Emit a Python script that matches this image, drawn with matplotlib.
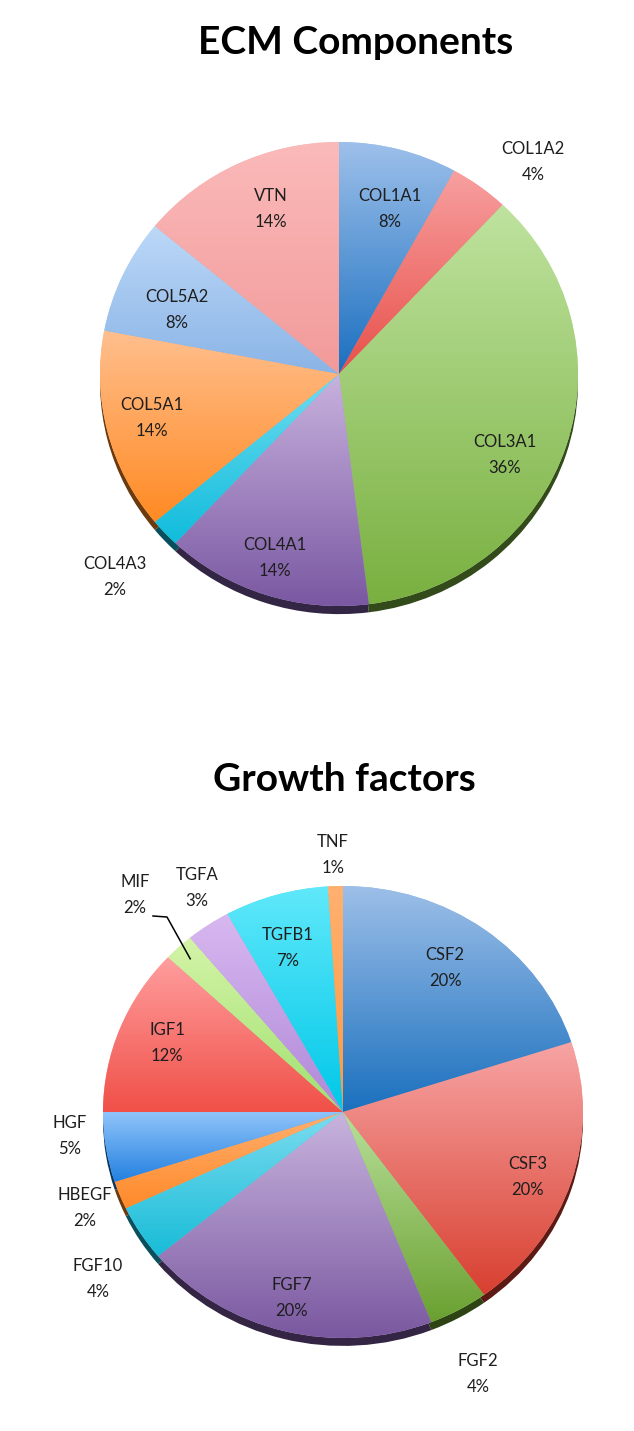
import matplotlib
matplotlib.use('Agg')
import matplotlib.pyplot as plt
import numpy as np
from matplotlib.colors import to_rgb, LinearSegmentedColormap

# ---------------- data ----------------
ecm_title = "ECM Components"
ecm_labels = ["COL1A1", "COL1A2", "COL3A1", "COL4A1", "COL4A3", "COL5A1", "COL5A2", "VTN"]
ecm_values = [8, 4, 36, 14, 2, 14, 8, 14]

gf_title = "Growth factors"
gf_labels = ["CSF2", "CSF3", "FGF2", "FGF7", "FGF10", "HBEGF", "HGF", "IGF1", "MIF", "TGFA", "TGFB1", "TNF"]
gf_values = [20, 20, 4, 20, 4, 2, 5, 12, 2, 3, 7, 1]

# ---------------- styles ----------------
ecm_colors = [("#9dc0ea", "#1a6fc0"), ("#f7a0a0", "#e8504a"), ("#bfe39f", "#79b040"),
              ("#c8b2de", "#7a58a2"), ("#70dcf0", "#10bcdc"), ("#ffbf8e", "#ff8a22"),
              ("#bcd8f8", "#8ab4e6"), ("#fbbaba", "#f29a9a")]
gf_colors = [("#9dbfe8", "#1a70be"), ("#f7a4a4", "#d84030"), ("#b8e09a", "#6aa030"),
             ("#c8b4de", "#7a58a0"), ("#7cdcef", "#18bcd8"), ("#ffb070", "#ff8a2a"),
             ("#90c4fa", "#2280e0"), ("#ff9e9e", "#f05048"), ("#d4f4a8", "#a0e070"),
             ("#d8b8f0", "#b088d8"), ("#60e8fa", "#00c8e8"), ("#ffb070", "#ff9a40")]

# label block centres in figure pixels (layout)
ecm_label_px = [(390, 209), (533, 162), (505, 455), (275, 558), (115, 577),
                (152, 418), (177, 310), (271, 209)]
gf_label_px = [(445, 968), (528, 1177), (478, 1374), (292, 1298), (98, 1279),
               (85, 1208), (70, 1136), (167, 1043), (135, 895), (197, 888),
               (288, 948), (333, 855)]

W, H = 634, 1431
fig = plt.figure(figsize=(W / 100, H / 100), dpi=100)
fig.patch.set_facecolor("white")

FONT = "Lato"
TXT = "#1e1e1e"


def add_axes_px(cx, cy, rx, ry):
    return fig.add_axes([(cx - rx) / W, 1 - (cy + ry) / H, 2 * rx / W, 2 * ry / H])


def draw_pie(cx, cy, rx, ry, values, colors):
    ax = add_axes_px(cx, cy, rx, ry)
    rim = [tuple(c * 0.42 for c in to_rgb(d)) for _, d in colors]
    ax.pie(values, startangle=90, counterclock=False, radius=1, center=(0, -0.035),
           colors=rim, wedgeprops=dict(linewidth=0))
    wedges, _ = ax.pie(values, startangle=90, counterclock=False, radius=1,
                       colors=[l for l, _ in colors], wedgeprops=dict(linewidth=0))
    grad = np.linspace(0, 1, 256).reshape(-1, 1)
    for w, (l, d) in zip(wedges, colors):
        ext = w.get_path().get_extents()
        cmap = LinearSegmentedColormap.from_list("g", [l, d])
        im = ax.imshow(grad, cmap=cmap, origin="upper", aspect="auto",
                       extent=[-1.05, 1.05, ext.y0, ext.y1], zorder=2,
                       interpolation="bilinear")
        im.set_clip_path(w)
    ax.set_aspect("auto")
    ax.set_xlim(-1, 1)
    ax.set_ylim(-1, 1)
    ax.axis("off")
    return ax, wedges


def put_labels(labels, values, pos):
    for lab, v, (px, py) in zip(labels, values, pos):
        fig.text(px / W, 1 - py / H, f"{lab}\n{v}%", ha="center", va="center",
                 fontsize=12, family=FONT, color=TXT, linespacing=1.8)


# ECM pie
fig.text(356 / W, 1 - 42 / H, ecm_title, ha="center", va="center", fontsize=28,
         fontweight="bold", family=FONT, color="black")
draw_pie(339, 374, 239, 232, ecm_values, ecm_colors)
put_labels(ecm_labels, ecm_values, ecm_label_px)

# Growth factors pie
fig.text(344 / W, 1 - 780 / H, gf_title, ha="center", va="center", fontsize=28,
         fontweight="bold", family=FONT, color="black")
ax2, w2 = draw_pie(343, 1112, 240, 226, gf_values, gf_colors)
put_labels(gf_labels, gf_values, gf_label_px)

# leader line for MIF
mi = gf_labels.index("MIF")
wm = w2[mi]
ang = np.deg2rad((wm.theta1 + wm.theta2) / 2)
tip = (0.93 * np.cos(ang), 0.93 * np.sin(ang))
tip_fig = fig.transFigure.inverted().transform(ax2.transData.transform(tip))
x0, y0 = 153 / W, 1 - 916 / H
x1, y1 = 167 / W, 1 - 917 / H
fig.add_artist(plt.Line2D([x0, x1, tip_fig[0]], [y0, y1, tip_fig[1]],
                          color="black", lw=1.1, transform=fig.transFigure))

fig.savefig("out.png", dpi=100, facecolor="white")
